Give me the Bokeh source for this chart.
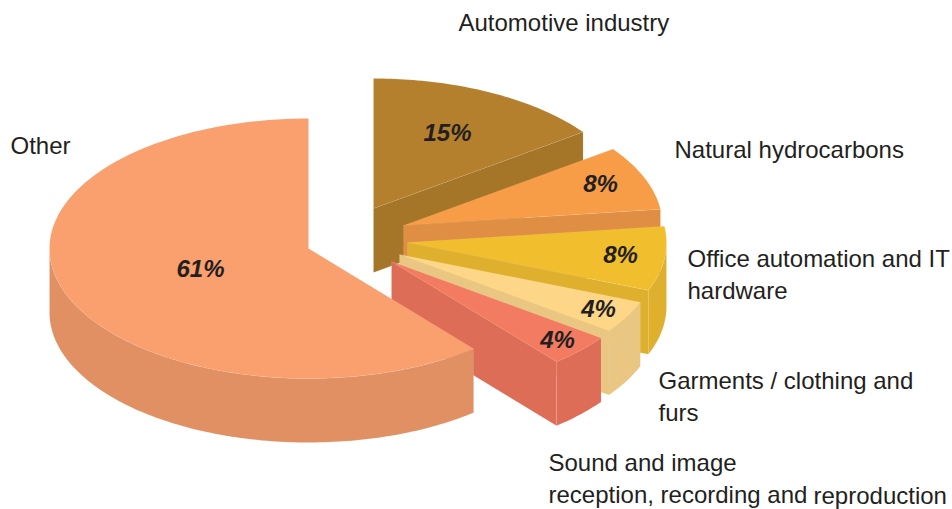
import numpy as np
from bokeh.embed import file_html
from bokeh.models import Range1d
from bokeh.plotting import figure
from bokeh.resources import INLINE
from bokeh.core.properties import value

# Data, clockwise from twelve o'clock
sectors = ["Automotive industry", "Natural hydrocarbons", "Office automation and IT hardware",
           "Garments / clothing and furs", "Sound and image reception, recording and reproduction", "Other"]
shares = [15, 8, 8, 4, 4, 61]
share_labels = ["15%", "8%", "8%", "4%", "4%", "61%"]
top_colors = ["#B5802E", "#F89D47", "#F1BE2E", "#FDD688", "#F27B62", "#FA9F6E"]
wall_colors = ["#A57528", "#E08E44", "#DFB02D", "#E9C681", "#DE6D58", "#E19063"]

# Layout (page pixels)
PAGE_W, PAGE_H = 952, 509
RX, RY, DEPTH = 259, 130, 64
apex_x = [373, 403, 407, 399, 391, 308]
apex_y = [208, 225, 242, 254, 261, 248]
share_x = [447, 600, 620, 598, 557, 200]
share_y = [132, 183, 254, 308, 339, 268]
text_lines = [("Automotive industry", 458, 22), ("Natural hydrocarbons", 674, 149),
              ("Office automation and IT", 687, 258), ("hardware", 687, 290),
              ("Garments / clothing and", 658, 380), ("furs", 658, 412),
              ("Sound and image", 548, 462), ("reception, recording and", 548, 494),
              ("reproduction", 813, 495), ("Other", 10, 145)]

p = figure(width=PAGE_W, height=PAGE_H, output_backend="svg", toolbar_location=None,
           x_range=Range1d(0, PAGE_W), y_range=Range1d(PAGE_H, 0),
           min_border=0, outline_line_color=None, background_fill_color="white")
p.axis.visible = False
p.grid.visible = False


def arc(cx, cy, a0, a1, dy=0):
    t = np.radians(np.linspace(a0, a1, max(2, int(abs(a1 - a0)) + 2)))
    return cx + RX * np.cos(t), cy - RY * np.sin(t) + dy


xs, ys, fills = [], [], []
start = 90.0
for i, share in enumerate(shares):
    end = start - share * 3.6
    cx, cy = apex_x[i], apex_y[i]
    # wall under the radial edge that closes the slice
    if -90 < end < 90:
        ex, ey = arc(cx, cy, end, end)
        xs.append([cx, ex[0], ex[0], cx])
        ys.append([cy, ey[0], ey[0] + DEPTH, cy + DEPTH])
        fills.append(wall_colors[i])
    # wall under the part of the rim that faces the viewer
    a0, a1 = min(start, 0), max(end, -180)
    if a0 > a1:
        tx, ty = arc(cx, cy, a0, a1)
        xs.append(list(tx) + list(tx[::-1]))
        ys.append(list(ty) + list(ty[::-1] + DEPTH))
        fills.append(wall_colors[i])
    # top face
    tx, ty = arc(cx, cy, start, end)
    xs.append([cx] + list(tx))
    ys.append([cy] + list(ty))
    fills.append(top_colors[i])
    start = end

p.patches(xs, ys, fill_color=fills, line_color="#FFFFFF", line_alpha=0.12, line_width=0.6)

p.text(share_x, share_y, text=share_labels, text_font=value("Liberation Sans"), text_font_style="bold italic",
       text_font_size="24px", text_color="#231F20", text_align="center", text_baseline="middle")

p.text([t[1] for t in text_lines], [t[2] for t in text_lines], text=[t[0] for t in text_lines],
       text_font=value("Liberation Sans"), text_font_size="24px", text_color="#231F20",
       text_align="left", text_baseline="middle")

open("out.html", "w").write(file_html(p, INLINE))
